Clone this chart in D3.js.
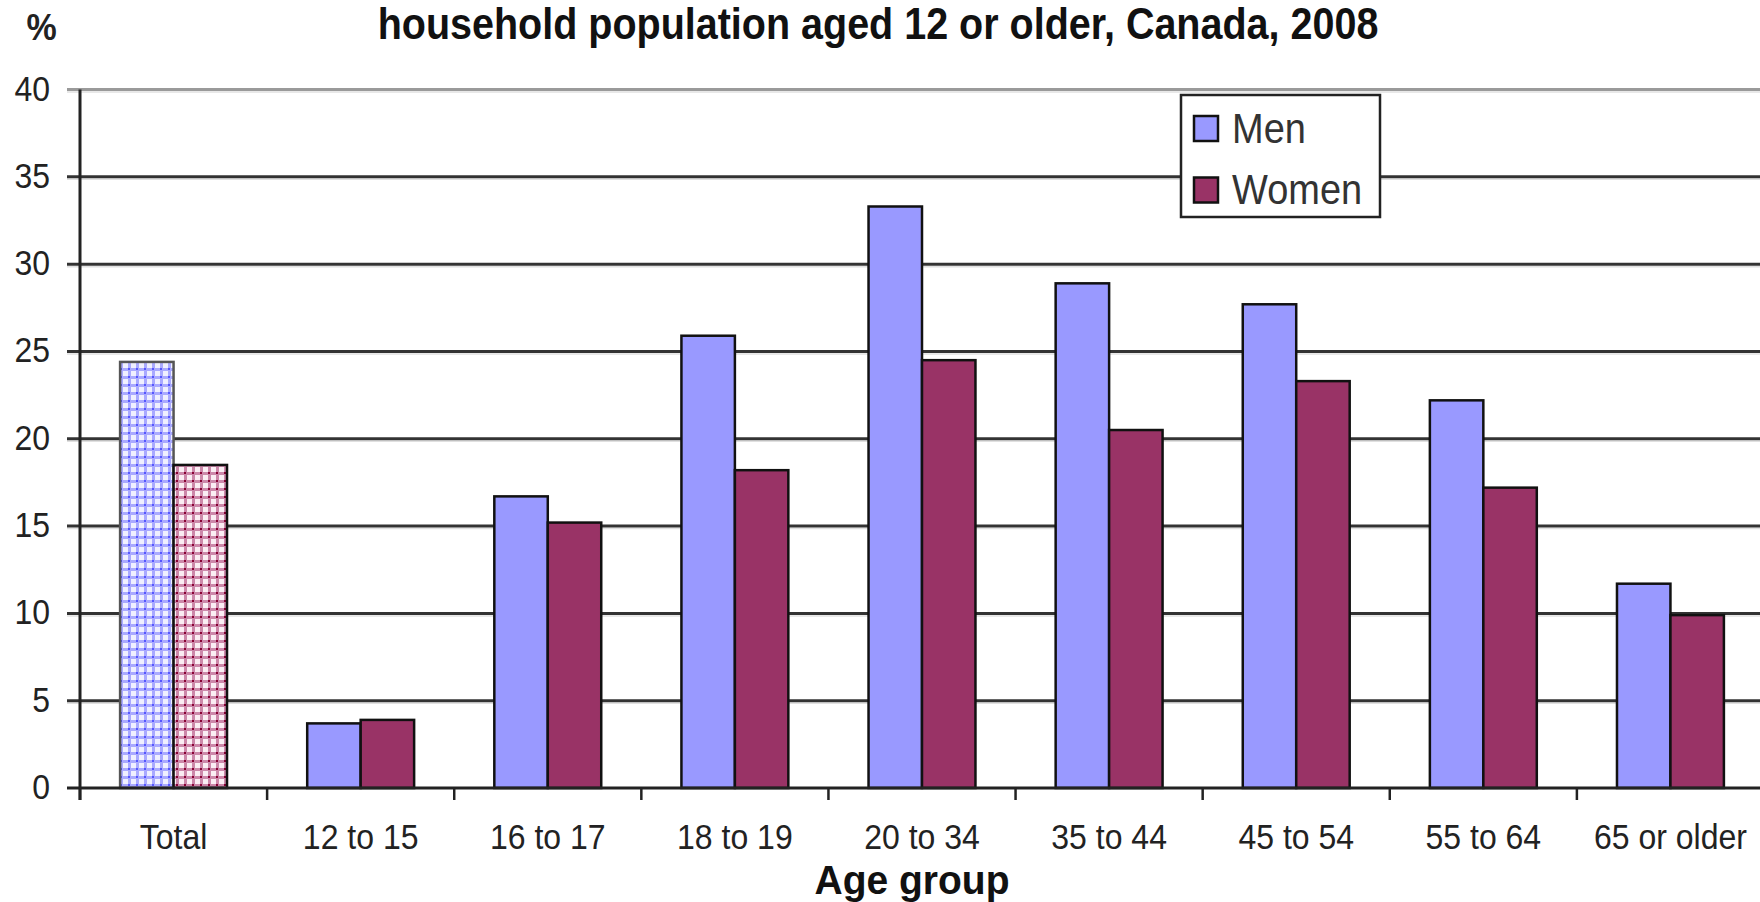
<!DOCTYPE html>
<html>
<head>
<meta charset="utf-8">
<script src="https://cdn.jsdelivr.net/npm/d3@7"></script>
<style>
  html, body { margin: 0; padding: 0; background: #fff; }
  svg { display: block; }
  text { font-family: "Liberation Sans", Arial, sans-serif; }
</style>
</head>
<body>
<svg id="chart" width="1760" height="902"></svg>
<script>
const categories = ["Total", "12 to 15", "16 to 17", "18 to 19", "20 to 34", "35 to 44", "45 to 54", "55 to 64", "65 or older"];
const men   = [24.4, 3.7, 16.7, 25.9, 33.3, 28.9, 27.7, 22.2, 11.7];
const women = [18.5, 3.9, 15.2, 18.2, 24.5, 20.5, 23.3, 17.2, 9.9];
const yTicks = [0, 5, 10, 15, 20, 25, 30, 35, 40];
const seriesNames = ["Men", "Women"];
const titleText = "household population aged 12 or older, Canada, 2008";
const yUnit = "%";
const xTitle = "Age group";

const colors = { Men: "#9999ff", Women: "#993366" };

const svg = d3.select("#chart");
const plotLeft = 80, plotRight = 1764, plotTop = 89.5, plotBottom = 788;

const x = d3.scaleBand().domain(categories).range([plotLeft, plotRight]).paddingInner(0).paddingOuter(0);
const y = d3.scaleLinear().domain([0, 40]).range([plotBottom, plotTop]);
const bw = x.bandwidth();
const barW = bw / 3.5;
const off = bw * 0.75 / 3.5;

// patterns for Total bars
const defs = svg.append("defs");
function makePattern(id, line, dot, bg) {
  const p = defs.append("pattern").attr("id", id).attr("patternUnits", "userSpaceOnUse")
    .attr("width", 8).attr("height", 8);
  p.append("rect").attr("width", 8).attr("height", 8).attr("fill", line);
  p.append("rect").attr("x", 3).attr("y", 3).attr("width", 5).attr("height", 5).attr("fill", bg);
  p.append("rect").attr("x", 0).attr("y", 0).attr("width", 2).attr("height", 2).attr("fill", dot);
}
makePattern("patMen", "#aaaaff", "#5555ff", "#f0f0ff");
makePattern("patWomen", "#cc88aa", "#880033", "#fbeef4");

// gridlines
const grid = svg.append("g");
const gridVals = yTicks.filter(t => t > 0);
grid.selectAll("line.s").data(gridVals).join("line").attr("class", "s")
  .attr("x1", 67).attr("x2", 1760)
  .attr("y1", d => y(d) + 2.5).attr("y2", d => y(d) + 2.5)
  .attr("stroke", "#e0e0e0").attr("stroke-width", 1.5);
grid.selectAll("line.g").data(gridVals).join("line").attr("class", "g")
  .attr("x1", 67).attr("x2", 1760)
  .attr("y1", d => y(d)).attr("y2", d => y(d))
  .attr("stroke", d => d === 40 ? "#9a9a9a" : "#333")
  .attr("stroke-width", 3);

// bars
const gBars = svg.append("g");
categories.forEach((c, i) => {
  const isTotal = i === 0;
  gBars.append("rect")
    .attr("x", x(c) + off).attr("y", y(men[i]))
    .attr("width", barW).attr("height", y(0) - y(men[i]))
    .attr("fill", isTotal ? "url(#patMen)" : colors.Men)
    .attr("stroke", isTotal ? "#555" : "#111").attr("stroke-width", 2.5);
  gBars.append("rect")
    .attr("x", x(c) + off + barW).attr("y", y(women[i]))
    .attr("width", barW).attr("height", y(0) - y(women[i]))
    .attr("fill", isTotal ? "url(#patWomen)" : colors.Women)
    .attr("stroke", "#111").attr("stroke-width", 2.5);
});

// axes
svg.append("line").attr("x1", plotLeft).attr("x2", plotLeft).attr("y1", plotTop).attr("y2", 800)
  .attr("stroke", "#222").attr("stroke-width", 3);
svg.append("line").attr("x1", 67).attr("x2", 1760).attr("y1", y(0)).attr("y2", y(0))
  .attr("stroke", "#222").attr("stroke-width", 3);
// category boundary ticks
const bounds = categories.map(c => x(c));
svg.append("g").selectAll("line").data(bounds).join("line")
  .attr("x1", d => d).attr("x2", d => d).attr("y1", y(0)).attr("y2", 800)
  .attr("stroke", "#222").attr("stroke-width", 2.5);

// y tick labels
svg.append("g").selectAll("text").data(yTicks).join("text")
  .attr("transform", d => `translate(50,${y(d) + 11}) scale(1,1.12)`)
  .attr("text-anchor", "end")
  .attr("font-size", 32).attr("fill", "#222")
  .text(d => d);

// x tick labels
svg.append("g").selectAll("text").data(categories).join("text")
  .attr("transform", d => `translate(${x(d) + bw / 2},849) scale(1,1.1)`)
  .attr("text-anchor", "middle")
  .attr("font-size", 32).attr("fill", "#222")
  .text(d => d);

// title, unit, axis title
svg.append("text").attr("transform", "translate(878,39) scale(1,1.1)")
  .attr("text-anchor", "middle").attr("font-size", 39.5).attr("font-weight", "bold")
  .attr("fill", "#111").text(titleText);
svg.append("text").attr("transform", "translate(41.5,40) scale(1,1.1)")
  .attr("text-anchor", "middle").attr("font-size", 34).attr("font-weight", "bold")
  .attr("fill", "#222").text(yUnit);
svg.append("text").attr("transform", "translate(912,894) scale(1,1.05)")
  .attr("text-anchor", "middle").attr("font-size", 39).attr("font-weight", "bold")
  .attr("fill", "#111").text(xTitle);

// legend
const lg = svg.append("g");
lg.append("rect").attr("x", 1181).attr("y", 95).attr("width", 199).attr("height", 122)
  .attr("fill", "#fff").attr("stroke", "#222").attr("stroke-width", 2.5);
const legY = [116, 177.5];
const legBase = [143, 204];
seriesNames.forEach((s, i) => {
  lg.append("rect").attr("x", 1194).attr("y", legY[i]).attr("width", 24).attr("height", 25)
    .attr("fill", colors[s]).attr("stroke", "#111").attr("stroke-width", 2.5);
  lg.append("text").attr("transform", `translate(1232,${legBase[i]}) scale(1,1.1)`)
    .attr("font-size", 38).attr("fill", "#333").text(s);
});
</script>
</body>
</html>
